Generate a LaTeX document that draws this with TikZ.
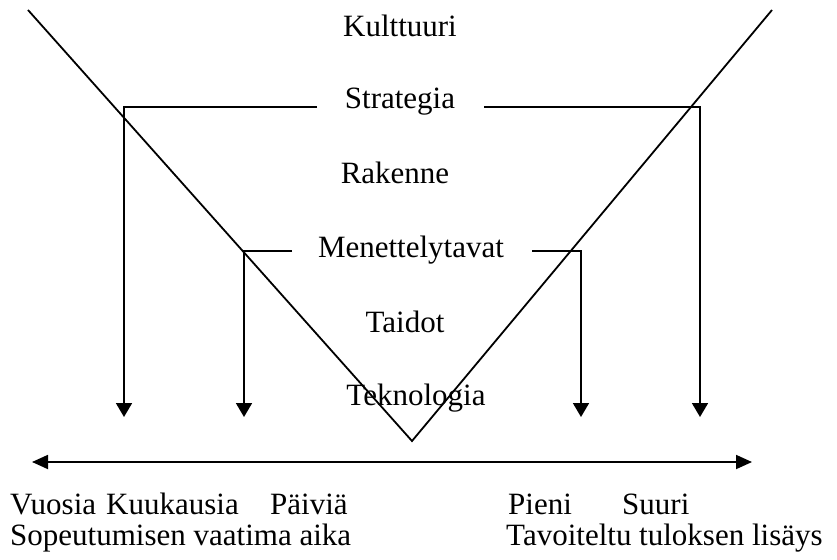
\documentclass[tikz,border=0pt]{standalone}
\usepackage{fontspec}
\setmainfont{Liberation Serif}
\usetikzlibrary{arrows.meta}

\begin{document}
\begin{tikzpicture}[
    x=1pt, y=-1pt,
    font=\fontsize{31}{30}\selectfont,
    layer/.style={anchor=base, inner sep=0pt},
    scaleword/.style={anchor=base west, inner sep=0pt},
    vline/.style={line width=1.8pt},
    bracket/.style={line width=1.8pt, -{Triangle[length=14pt, width=16pt]}},
    axis/.style={line width=1.8pt,
        {Triangle[length=16pt, width=14pt]}-{Triangle[length=16pt, width=14pt]}}
]
\useasboundingbox (0,0) rectangle (837,559);

% Layers down the middle
\node[layer] (kult)  at (400,37)  {Kulttuuri};
\node[layer] (strat) at (400,109) {Strategia};
\node[layer] (rak)   at (395,183) {Rakenne};
\node[layer] (men)   at (411,257) {Menettelytavat};
\node[layer] (taid)  at (405,332) {Taidot};
\node[layer] (tekn)  at (416,405) {Teknologia};

% The V
\coordinate (vleft)  at (28,10);
\coordinate (vtip)   at (412,441);
\coordinate (vright) at (772,10);
\draw[vline] (vleft) -- (vtip) -- (vright);

% Brackets from Strategia and Menettelytavat
\coordinate (stratL) at (317,107);
\coordinate (stratR) at (484,107);
\coordinate (menL)   at (292,251);
\coordinate (menR)   at (532,251);
\coordinate (yearsE)  at (124,417);
\coordinate (monthsE) at (244,417);
\coordinate (smallE)  at (581,417);
\coordinate (bigE)    at (700,417);

\draw[bracket] (stratL) -| (yearsE);
\draw[bracket] (stratR) -| (bigE);
\draw[bracket] (menL) -| (monthsE);
\draw[bracket] (menR) -| (smallE);

% Axis
\coordinate (axL) at (32,462);
\coordinate (axR) at (752,462);
\draw[axis] (axL) -- (axR);

% Scale words
\node[scaleword] (vuosia) at (10,514)  {Vuosia};
\node[scaleword] (kuuk)   at (106,514) {Kuukausia};
\node[scaleword] (paiv)   at (270,514) {Päiviä};
\node[scaleword] (pieni)  at (508,514) {Pieni};
\node[scaleword] (suuri)  at (622,514) {Suuri};
\node[scaleword] (aika)   at (10,545)  {Sopeutumisen vaatima aika};
\node[scaleword] (tulos)  at (506,545) {Tavoiteltu tuloksen lisäys};

\end{tikzpicture}
\end{document}
